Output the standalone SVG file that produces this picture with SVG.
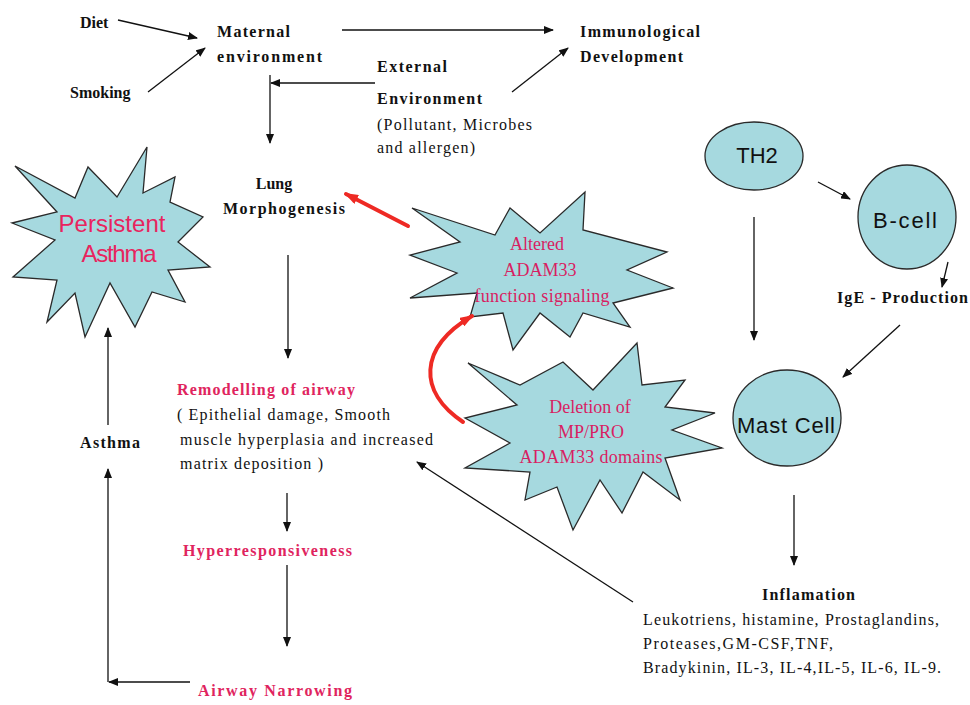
<svg xmlns="http://www.w3.org/2000/svg" width="970" height="705" viewBox="0 0 970 705">
<defs>
<marker id="ah" markerUnits="userSpaceOnUse" markerWidth="10" markerHeight="8" refX="9" refY="4" orient="auto"><path d="M0,0 L10,4 L0,8 Z" fill="#111"/></marker>
<marker id="ahr" markerUnits="userSpaceOnUse" markerWidth="14" markerHeight="10" refX="12" refY="5" orient="auto"><path d="M0,0 L14,5 L0,10 Z" fill="#ee2a24"/></marker>
<style>
.b{font-family:"Times New Roman","Liberation Serif",Tinos,serif;font-weight:bold;font-size:16px;fill:#111}
.t{font-family:"Times New Roman","Liberation Serif",Tinos,serif;font-size:16px;fill:#111}
.p{font-family:"Times New Roman","Liberation Serif",Tinos,serif;font-weight:bold;font-size:16px;fill:#e0245e}
.ps{font-family:"Times New Roman","Liberation Serif",Tinos,serif;font-size:18px;fill:#d81e62}
.a{font-family:"Liberation Sans",Arial,sans-serif;font-size:22px;fill:#111}
.pa{font-family:"Liberation Sans",Arial,sans-serif;font-size:24px;fill:#e8245e}
.shape{fill:#a6d9df;stroke:#2a2a2a;stroke-width:1.3}
.c{fill:none;stroke:#111;stroke-width:1.3}
.r{fill:none;stroke:#ee2a24;stroke-width:4;stroke-linecap:round}
</style>
</defs>

<g id="diet"><text class="b" x="80" y="28">Diet</text></g>
<g id="smoking"><text class="b" x="70" y="98">Smoking</text></g>
<g id="maternal"><text class="b" x="217" y="37" textLength="73">Maternal</text><text class="b" x="217" y="62" textLength="105">environment</text></g>
<g id="immuno"><text class="b" x="580" y="37" textLength="120">Immunological</text><text class="b" x="580" y="62" textLength="103">Development</text></g>
<g id="external"><text class="b" x="377" y="72" textLength="70">External</text><text class="b" x="377" y="104" textLength="105">Environment</text><text class="t" x="377" y="130" textLength="155">(Pollutant, Microbes</text><text class="t" x="377" y="153" textLength="98">and allergen)</text></g>
<g id="lung"><text class="b" x="274" y="189" text-anchor="middle">Lung</text><text class="b" x="223" y="214" textLength="122">Morphogenesis</text></g>

<g id="persistent">
<polygon class="shape" points="15,166 57,212 12,223 55,240 13,277 57,280 47,322 75,293 85,337 110,283 135,327 152,292 185,302 168,270 210,267 178,242 203,217 170,202 175,177 143,193 147,147 117,197 88,167 75,198"/>
<text class="pa" x="112" y="232" text-anchor="middle" textLength="107">Persistent</text>
<text class="pa" x="119" y="262" text-anchor="middle" textLength="75">Asthma</text>
</g>

<g id="altered">
<polygon class="shape" points="412,208 495,235 510,208 540,233 585,192 583,230 667,252 627,270 673,288 613,303 630,327 583,313 570,337 540,313 513,350 503,313 470,317 477,293 410,298 457,273 410,255 460,242"/>
<text class="ps" x="537" y="250" text-anchor="middle">Altered</text>
<text class="ps" x="540" y="276" text-anchor="middle">ADAM33</text>
<text class="ps" x="542" y="302" text-anchor="middle" textLength="135">function signaling</text>
</g>

<g id="deletion">
<polygon class="shape" points="468,363 520,385 563,362 593,390 637,343 642,385 685,380 665,407 715,413 672,430 722,448 665,458 680,500 643,472 622,513 600,480 573,530 557,487 525,500 530,472 465,468 510,443 465,418 517,405"/>
<text class="ps" x="590" y="413" text-anchor="middle">Deletion of</text>
<text class="ps" x="591" y="438" text-anchor="middle">MP/PRO</text>
<text class="ps" x="591" y="463" text-anchor="middle" textLength="143">ADAM33 domains</text>
</g>

<g id="th2"><ellipse class="shape" cx="754" cy="156" rx="49" ry="34"/><text class="a" x="757" y="163" text-anchor="middle">TH2</text></g>
<g id="bcell"><ellipse class="shape" cx="907" cy="217" rx="49" ry="52"/><text class="a" x="905" y="228" text-anchor="middle" textLength="64">B-cell</text></g>
<g id="mast"><ellipse class="shape" cx="787" cy="418" rx="54" ry="48"/><text class="a" x="786" y="433" text-anchor="middle" textLength="98">Mast Cell</text></g>
<g id="ige"><text class="b" x="837" y="303" textLength="131">IgE - Production</text></g>

<g id="remodelling">
<text class="p" x="177" y="395" textLength="178">Remodelling of airway</text>
<text class="t" x="177" y="420" textLength="213">( Epithelial damage, Smooth</text>
<text class="t" x="180" y="445" textLength="253">muscle hyperplasia and increased</text>
<text class="t" x="180" y="469" textLength="143">matrix deposition )</text>
</g>
<g id="hyper"><text class="p" x="183" y="556" textLength="169">Hyperresponsiveness</text></g>
<g id="narrowing"><text class="p" x="198" y="696" textLength="154">Airway Narrowing</text></g>
<g id="asthma"><text class="b" x="80" y="448" textLength="60">Asthma</text></g>
<g id="inflamation">
<text class="b" x="762" y="600" textLength="93">Inflamation</text>
<text class="t" x="643" y="625" textLength="296">Leukotriens, histamine, Prostaglandins,</text>
<text class="t" x="643" y="649" textLength="190">Proteases,GM-CSF,TNF,</text>
<text class="t" x="643" y="673" textLength="298">Bradykinin, IL-3, IL-4,IL-5, IL-6, IL-9.</text>
</g>

<g id="connectors">
<line class="c" x1="118" y1="20" x2="197" y2="38" marker-end="url(#ah)"/>
<line class="c" x1="148" y1="92" x2="205" y2="48" marker-end="url(#ah)"/>
<line class="c" x1="342" y1="30" x2="553" y2="30" marker-end="url(#ah)"/>
<line class="c" x1="512" y1="92" x2="568" y2="48" marker-end="url(#ah)"/>
<line class="c" x1="375" y1="83" x2="271" y2="83" marker-end="url(#ah)"/>
<line class="c" x1="270" y1="75" x2="270" y2="143" marker-end="url(#ah)"/>
<line class="c" x1="288" y1="255" x2="288" y2="358" marker-end="url(#ah)"/>
<line class="c" x1="287" y1="493" x2="287" y2="531" marker-end="url(#ah)"/>
<line class="c" x1="287" y1="565" x2="287" y2="646" marker-end="url(#ah)"/>
<line class="c" x1="190" y1="682" x2="109" y2="682" marker-end="url(#ah)"/>
<line class="c" x1="108" y1="682" x2="108" y2="469" marker-end="url(#ah)"/>
<line class="c" x1="108" y1="425" x2="108" y2="328" marker-end="url(#ah)"/>
<line class="c" x1="633" y1="602" x2="417" y2="462" marker-end="url(#ah)"/>
<line class="c" x1="818" y1="182" x2="850" y2="199" marker-end="url(#ah)"/>
<line class="c" x1="754" y1="217" x2="754" y2="340" marker-end="url(#ah)"/>
<line class="c" x1="948" y1="262" x2="942" y2="287" marker-end="url(#ah)"/>
<line class="c" x1="900" y1="325" x2="843" y2="377" marker-end="url(#ah)"/>
<line class="c" x1="794" y1="495" x2="794" y2="565" marker-end="url(#ah)"/>
<line class="r" x1="408" y1="226" x2="346" y2="194" marker-end="url(#ahr)"/>
<path class="r" d="M463,422 C418,392 418,348 472,316" marker-end="url(#ahr)"/>
</g>
</svg>
